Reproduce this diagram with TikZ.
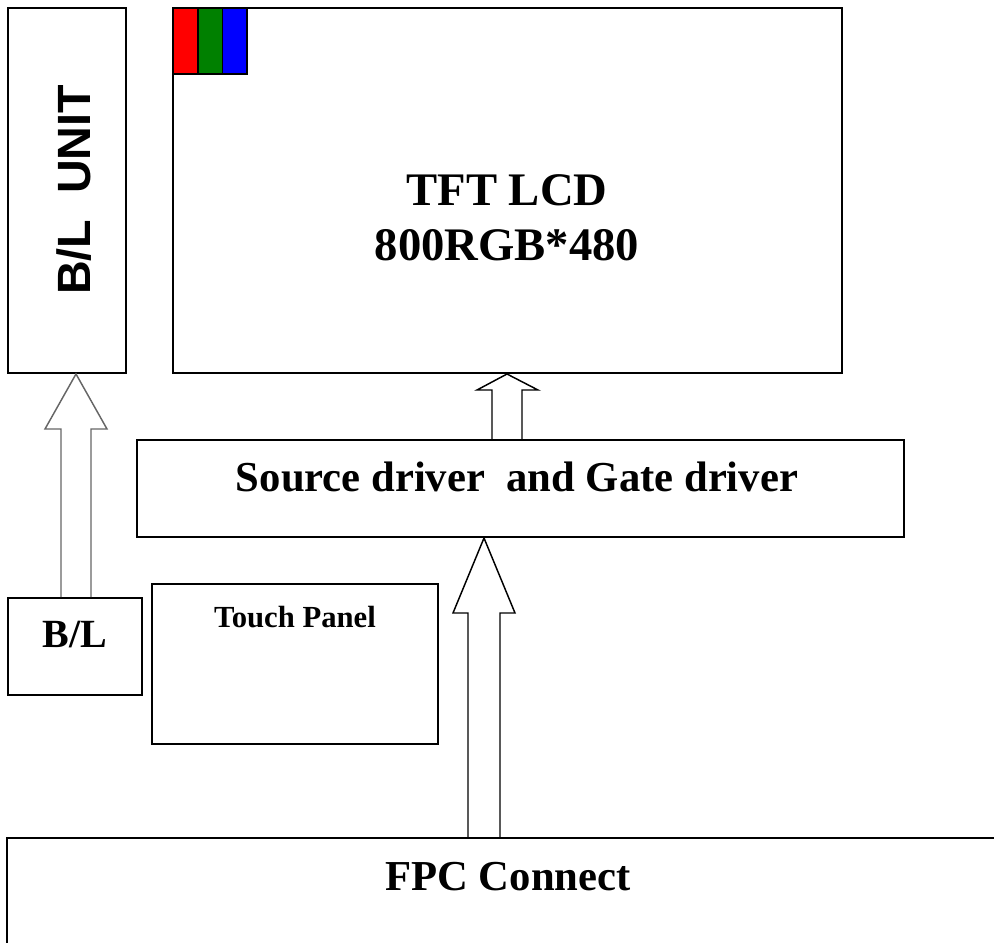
\documentclass[tikz,border=0pt]{standalone}
\usepackage{fontspec}
\setmainfont{Liberation Serif}
\newfontfamily\unitfont{Liberation Sans}
\usetikzlibrary{fit}
\tikzset{
  box/.style={draw, line width=1.5pt, inner sep=0pt},
  hollow/.style={draw, line width=1.1pt, line join=miter},
  lbl/.style={anchor=base, inner sep=0pt, font=\bfseries},
  cell/.style={draw, line width=1.2pt, inner sep=0pt},
}
\begin{document}
\begin{tikzpicture}[x=0.75pt, y=-0.75pt]
\clip (0,0) rectangle (994,942);

% Blocos
\node[box, fit={(8,8) (126,373)}] (unit) {};
\node[box, fit={(173,8) (842,373)}] (lcd) {};
\node[box, fit={(137,440) (904,537)}] (drv) {};
\node[box, fit={(8,598) (142,695)}] (bl) {};
\node[box, fit={(152,584) (438,744)}] (touch) {};
\node[box, fit={(7,838) (1010,960)}] (fpc) {};

% Subpixels R G B
\foreach \c [count=\i from 0] in {red, green!50!black, blue}
  \node[cell, fill=\c, fit={(173+24.7*\i,8) (197.7+24.7*\i,74)}] (px\i) {};

% Textos
\node[lbl, rotate=90, font=\unitfont\bfseries\fontsize{35}{40}\selectfont] (unitlbl) at (90,190) {B/L\ \ UNIT};
\node[lbl, align=center, font=\bfseries\fontsize{35}{41.25}\selectfont] (lcdlbl) at (507,260) {TFT LCD\\800RGB*480};
\node[lbl, font=\bfseries\fontsize{32}{36}\selectfont] (drvlbl) at (517,491) {Source driver\ \ and Gate driver};
\node[lbl, font=\bfseries\fontsize{30}{36}\selectfont] (bllbl) at (75,647) {B/L};
\node[lbl, font=\bfseries\fontsize{23}{28}\selectfont] (touchlbl) at (295,627) {Touch Panel};
\node[lbl, font=\bfseries\fontsize{32}{36}\selectfont] (fpclbl) at (508,890) {FPC Connect};

% Setas
\draw[hollow] (468,0 |- fpc.north) -- (468,613) -- (453,613) -- (484,0 |- drv.south)
  -- (515,613) -- (500,613) -- (500,0 |- fpc.north);
\draw[hollow] (492,0 |- drv.north) -- (492,390) -- (477,390) -- (507,0 |- lcd.south)
  -- (538,390) -- (522,390) -- (522,0 |- drv.north);
\draw[hollow, black!60] (61,0 |- bl.north) -- (61,429) -- (45,429) -- (76,0 |- unit.south)
  -- (107,429) -- (91,429) -- (91,0 |- bl.north);
\end{tikzpicture}
\end{document}
